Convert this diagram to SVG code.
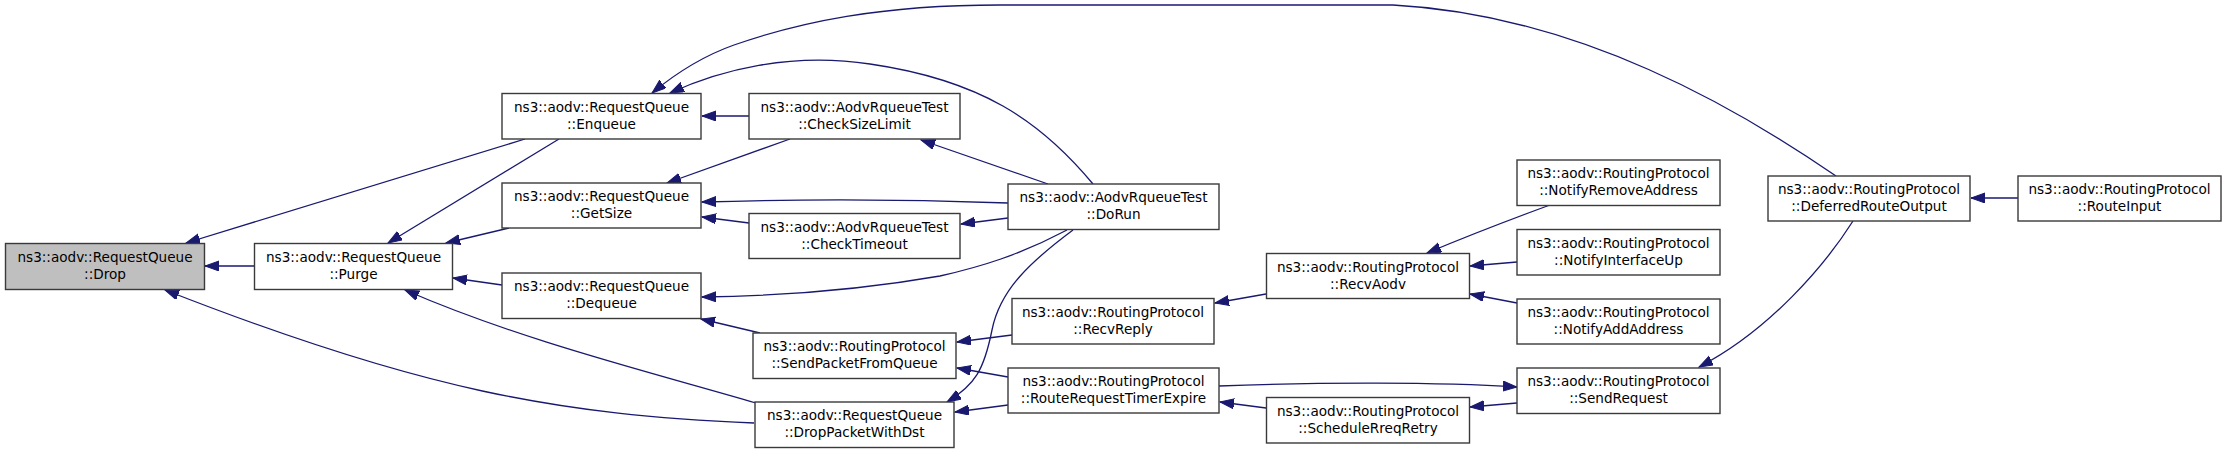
<svg xmlns="http://www.w3.org/2000/svg" width="2227" height="453" viewBox="0 0 2227 453">
<style>
.n rect{fill:#ffffff;stroke:#3a3a3a;stroke-width:1.4}
.n.root rect{fill:#bfbfbf}
.n text{font-family:"DejaVu Sans","Liberation Sans",sans-serif;font-size:13.6px;fill:#000;text-anchor:middle}
.e path{fill:none;stroke:#191970;stroke-width:1.3;marker-end:url(#ah)}
</style>
<defs>
<marker id="ah" markerUnits="userSpaceOnUse" markerWidth="15" markerHeight="11" refX="14" refY="5" orient="auto">
<path d="M0,0 L14,5 L0,10 z" fill="#191970" stroke="#191970" stroke-width="1"/>
</marker>
</defs>
<rect x="0" y="0" width="2227" height="453" fill="#ffffff"/>
<g id="connectors" class="e">
<path d="M254,266 L205,266"/>
<path d="M525,139 L186,243"/>
<path d="M754,423 C560,415 420,390 165,290"/>
<path d="M559,139 L388,243"/>
<path d="M509,228 L446,243"/>
<path d="M502,285 L453,278"/>
<path d="M756,403 C650,372 520,340 405,290"/>
<path d="M749,116 L702,116"/>
<path d="M1093,184 C1040,120 980,80 870,64 C790,52 720,70 670,93"/>
<path d="M1836,176 C1740,110 1580,15 1393,5 L1000,5 C880,5 800,22 734,45 C700,57 675,74 652,93"/>
<path d="M790,139 L667,183"/>
<path d="M1008,203 C900,199 800,199 702,202"/>
<path d="M749,223 L702,217"/>
<path d="M1008,218 L961,224"/>
<path d="M1048,184 L921,140"/>
<path d="M1067,230 C1020,255 980,267 940,276 C860,290 780,296 702,297"/>
<path d="M1073,230 C1030,262 1000,290 992,330 C984,370 975,385 947,402"/>
<path d="M760,333 L701,319"/>
<path d="M1012,335 L957,342"/>
<path d="M1008,377 L957,368"/>
<path d="M1008,405 L955,412"/>
<path d="M1266,294 L1215,303"/>
<path d="M1219,386 C1320,382 1440,382 1517,387"/>
<path d="M1266,408 L1220,402"/>
<path d="M1517,403 L1470,407"/>
<path d="M1853,221 C1825,265 1770,330 1699,367"/>
<path d="M2018,198 L1971,198"/>
<path d="M1550,205 C1520,216 1470,235 1427,253"/>
<path d="M1517,262 L1470,266"/>
<path d="M1517,303 L1470,294"/>
</g>
<g id="n_drop" class="n root"><rect x="5.5" y="243.5" width="199" height="46"/><text x="105" y="261.5">ns3::aodv::RequestQueue</text><text x="105" y="278.5">::Drop</text></g>
<g id="n_purge" class="n"><rect x="254.5" y="243.5" width="198" height="46"/><text x="353.5" y="261.5">ns3::aodv::RequestQueue</text><text x="353.5" y="278.5">::Purge</text></g>
<g id="n_enqueue" class="n"><rect x="502" y="93.5" width="199" height="45.5"/><text x="601.5" y="111.5">ns3::aodv::RequestQueue</text><text x="601.5" y="128.5">::Enqueue</text></g>
<g id="n_getsize" class="n"><rect x="502" y="183" width="199" height="45"/><text x="601.5" y="201">ns3::aodv::RequestQueue</text><text x="601.5" y="218">::GetSize</text></g>
<g id="n_dequeue" class="n"><rect x="502" y="273" width="199" height="45.5"/><text x="601.5" y="291">ns3::aodv::RequestQueue</text><text x="601.5" y="308">::Dequeue</text></g>
<g id="n_checksizelimit" class="n"><rect x="749" y="93.5" width="211" height="45.5"/><text x="854.5" y="111.5">ns3::aodv::AodvRqueueTest</text><text x="854.5" y="128.5">::CheckSizeLimit</text></g>
<g id="n_checktimeout" class="n"><rect x="749" y="213.5" width="211" height="45"/><text x="854.5" y="231.5">ns3::aodv::AodvRqueueTest</text><text x="854.5" y="248.5">::CheckTimeout</text></g>
<g id="n_sendpacketfromqueue" class="n"><rect x="753" y="333" width="203" height="45.5"/><text x="854.5" y="351">ns3::aodv::RoutingProtocol</text><text x="854.5" y="368">::SendPacketFromQueue</text></g>
<g id="n_droppacketwithdst" class="n"><rect x="755" y="402" width="199" height="45.5"/><text x="854.5" y="420">ns3::aodv::RequestQueue</text><text x="854.5" y="437">::DropPacketWithDst</text></g>
<g id="n_dorun" class="n"><rect x="1008" y="184" width="211" height="45.5"/><text x="1113.5" y="202">ns3::aodv::AodvRqueueTest</text><text x="1113.5" y="219">::DoRun</text></g>
<g id="n_recvreply" class="n"><rect x="1012" y="298.5" width="202" height="45.5"/><text x="1113" y="316.5">ns3::aodv::RoutingProtocol</text><text x="1113" y="333.5">::RecvReply</text></g>
<g id="n_routerequesttimerexpire" class="n"><rect x="1008" y="368" width="211" height="45"/><text x="1113.5" y="386">ns3::aodv::RoutingProtocol</text><text x="1113.5" y="403">::RouteRequestTimerExpire</text></g>
<g id="n_recvaodv" class="n"><rect x="1266.5" y="253.5" width="203" height="45"/><text x="1368" y="271.5">ns3::aodv::RoutingProtocol</text><text x="1368" y="288.5">::RecvAodv</text></g>
<g id="n_schedulerreqretry" class="n"><rect x="1266.5" y="397.5" width="203" height="45.5"/><text x="1368" y="415.5">ns3::aodv::RoutingProtocol</text><text x="1368" y="432.5">::ScheduleRreqRetry</text></g>
<g id="n_notifyremoveaddress" class="n"><rect x="1517" y="160" width="203" height="45.5"/><text x="1618.5" y="178">ns3::aodv::RoutingProtocol</text><text x="1618.5" y="195">::NotifyRemoveAddress</text></g>
<g id="n_notifyinterfaceup" class="n"><rect x="1517" y="229.5" width="203" height="45.5"/><text x="1618.5" y="247.5">ns3::aodv::RoutingProtocol</text><text x="1618.5" y="264.5">::NotifyInterfaceUp</text></g>
<g id="n_notifyaddaddress" class="n"><rect x="1517" y="299" width="203" height="45"/><text x="1618.5" y="317">ns3::aodv::RoutingProtocol</text><text x="1618.5" y="334">::NotifyAddAddress</text></g>
<g id="n_sendrequest" class="n"><rect x="1517" y="368" width="203" height="45.5"/><text x="1618.5" y="386">ns3::aodv::RoutingProtocol</text><text x="1618.5" y="403">::SendRequest</text></g>
<g id="n_deferredrouteoutput" class="n"><rect x="1768" y="176" width="202" height="45"/><text x="1869" y="194">ns3::aodv::RoutingProtocol</text><text x="1869" y="211">::DeferredRouteOutput</text></g>
<g id="n_routeinput" class="n"><rect x="2018" y="176" width="203" height="45"/><text x="2119.5" y="194">ns3::aodv::RoutingProtocol</text><text x="2119.5" y="211">::RouteInput</text></g>
</svg>
